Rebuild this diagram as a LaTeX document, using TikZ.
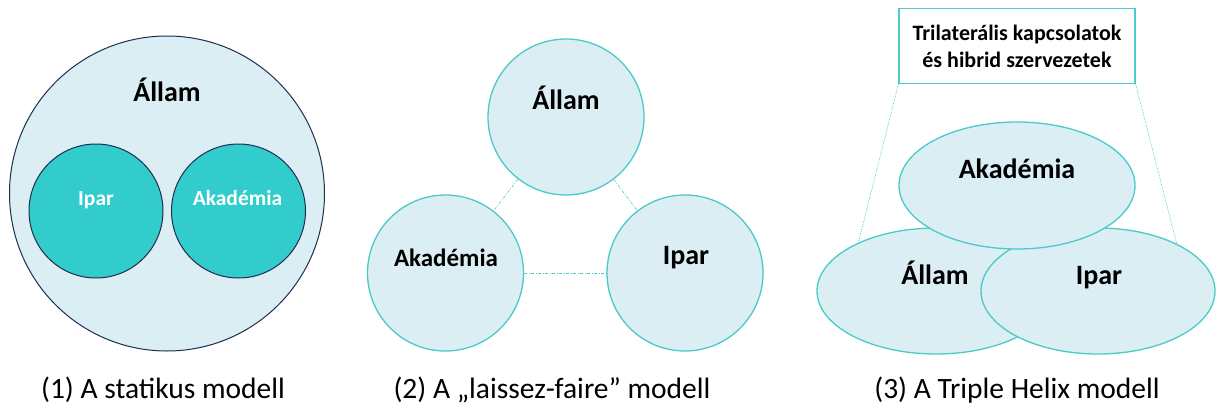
\documentclass[tikz,border=0pt]{standalone}
\usepackage{fontspec}
\setmainfont{Carlito}
\usetikzlibrary{shapes.geometric}
\definecolor{lightfill}{HTML}{DAEEF3}
\definecolor{tealline}{HTML}{4CC9C9}
\definecolor{navyline}{HTML}{1F2D4F}
\definecolor{innerteal}{HTML}{33CCCC}
\tikzset{
  bigcirc/.style={circle, draw=navyline, fill=lightfill, line width=1pt, inner sep=0pt},
  innercirc/.style={circle, draw=navyline, fill=innerteal, line width=1pt, inner sep=0pt, minimum size=134pt},
  lightcirc/.style={circle, draw=tealline, fill=lightfill, line width=1.3pt, inner sep=0pt, minimum size=156pt},
  lightell/.style={ellipse, draw=tealline, fill=lightfill, line width=1.3pt, inner sep=0pt},
  lbl/.style={font=\bfseries\fontsize{#1}{#1}\selectfont, inner sep=0pt, anchor=base},
  caption/.style={font=\fontsize{29.5}{29.5}\selectfont, inner sep=0pt, anchor=base},
  dashdot/.style={draw=tealline, line width=0.6pt, dash pattern=on 3pt off 1.5pt on 1pt off 1.5pt},
  dotline/.style={draw=tealline, line width=0.6pt, dash pattern=on 1.2pt off 1.2pt},
}
\begin{document}
\begin{tikzpicture}[x=1pt,y=-1pt]
\useasboundingbox (0,0) rectangle (1216,407);
% Panel 1
\node[bigcirc, minimum size=315pt] (big) at (167,193.5) {};
\node[innercirc] (ipar1) at (96,211) {};
\node[innercirc] (akad1) at (238.5,211) {};
\node[lbl=28] (allam1t) at (167,101) {Állam};
\node[lbl=21.5, text=white] (ipar1t) at (96,205) {Ipar};
\node[lbl=21.5, text=white] (akad1t) at (237.5,205) {Akadémia};
\node[caption] (cap1) at (163,398) {(1) A statikus modell};
% Panel 2
\node[lightcirc] (allam2) at (566,117) {};
\node[lightcirc] (akad2) at (445.5,273) {};
\node[lightcirc] (ipar2) at (685,273) {};
\draw[dashdot] (allam2) -- (akad2);
\draw[dashdot] (allam2) -- (ipar2);
\draw[dashdot] (akad2) -- (ipar2);
\node[lbl=28] (allam2t) at (566,109) {Állam};
\node[lbl=25] (akad2t) at (446,266) {Akadémia};
\node[lbl=28] (ipar2t) at (686,264) {Ipar};
\node[caption] (cap2) at (552,398) {(2) A „laissez-faire” modell};
% Panel 3
\node[draw=tealline, line width=1.3pt, fill=white, minimum width=236pt, minimum height=75pt, inner sep=0pt, align=center, font=\bfseries\fontsize{22}{27}\selectfont] (box) at (1017,46) {Trilaterális kapcsolatok\\és hibrid szervezetek};
\node[lightell, minimum width=238pt, minimum height=126pt] (allam3) at (936,291) {};
\node[lightell, minimum width=234pt, minimum height=126pt] (ipar3) at (1098,291) {};
\node[lightell, minimum width=236pt, minimum height=127pt] (akad3) at (1017,185.5) {};
\draw[dotline] (box.south west) -- (allam3.148);
\draw[dotline] (box.south east) -- (ipar3.31);
\node[lbl=28] (akad3t) at (1017,178) {Akadémia};
\node[lbl=28] (allam3t) at (935,284) {Állam};
\node[lbl=28] (ipar3t) at (1099,284) {Ipar};
\node[caption] (cap3) at (1017,398) {(3) A Triple Helix modell};
\end{tikzpicture}
\end{document}
